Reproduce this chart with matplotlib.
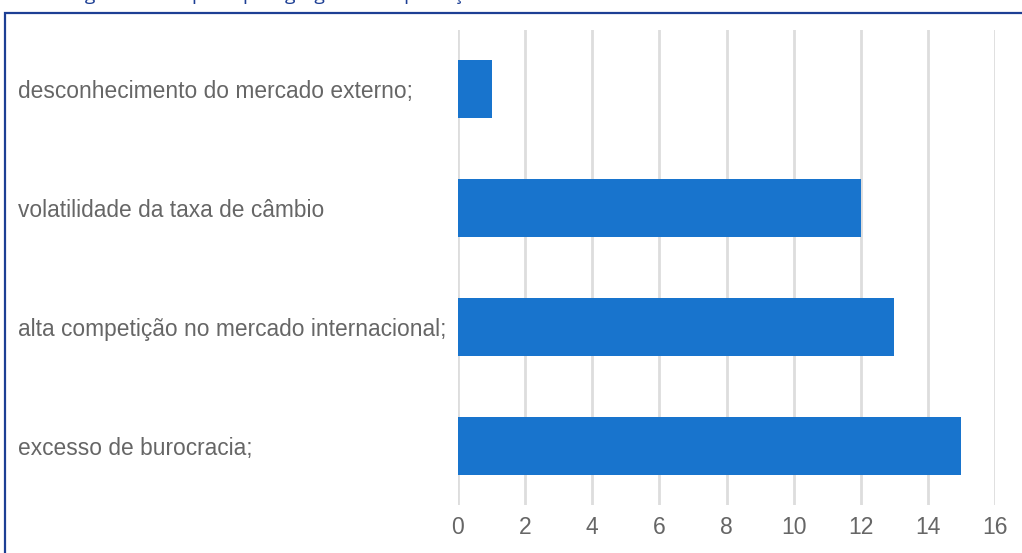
import matplotlib
matplotlib.use('Agg')
import matplotlib.pyplot as plt
from matplotlib.patches import Rectangle

# dados
categorias = ['desconhecimento do mercado externo;',
              'volatilidade da taxa de câmbio',
              'alta competição no mercado internacional;',
              'excesso de burocracia;']
valores = [1, 12, 13, 15]
ticks_x = [0, 2, 4, 6, 8, 10, 12, 14, 16]
titulo = 'Figura 3 – Os principais gargalos à exportação'

plt.rcParams['font.family'] = ['Liberation Sans', 'DejaVu Sans']

fig = plt.figure(figsize=(10.22, 5.53), dpi=100)
fig.patch.set_facecolor('white')

# moldura azul (continua para fora da imagem a direita e em baixo)
fig.patches.append(Rectangle((4.5 / 1022, -0.2), 1.2, 1.2 - 13 / 553,
                             transform=fig.transFigure, fill=False,
                             edgecolor='#1d3f94', linewidth=1.6))
# titulo cortado no topo, como no original: so as descendentes aparecem
fig.text(70 / 1022, 1.0 + 0.5 / 553, titulo, color='#1d3f94', fontsize=14,
         family=['Open Sans', 'DejaVu Sans'], va='baseline', ha='left')

ax = fig.add_axes([458 / 1022, 48 / 553, 537 / 1022, 475 / 553])
y = list(range(len(categorias)))
ax.barh(y, valores, height=0.49, color='#1874cd', zorder=3)

ax.set_xlim(0, 16)
ax.set_ylim(len(categorias) - 0.5, -0.5)
ax.set_xticks(ticks_x)
ax.set_xticklabels([str(t) for t in ticks_x],
                   family=['Liberation Sans Narrow', 'Liberation Sans'])
ax.set_yticks(y)
ax.set_yticklabels(categorias)
for lab in ax.get_yticklabels():
    lab.set_ha('left')
ax.tick_params(axis='y', length=0, pad=440 * 0.72, labelsize=16.4, labelcolor='#666666')
ax.tick_params(axis='x', length=0, pad=8, labelsize=16.5, labelcolor='#666666')
ax.grid(axis='x', color='#dddddd', linewidth=2, zorder=0)
for s in ax.spines.values():
    s.set_visible(False)
ax.set_facecolor('none')

fig.savefig('out.png', dpi=100)
